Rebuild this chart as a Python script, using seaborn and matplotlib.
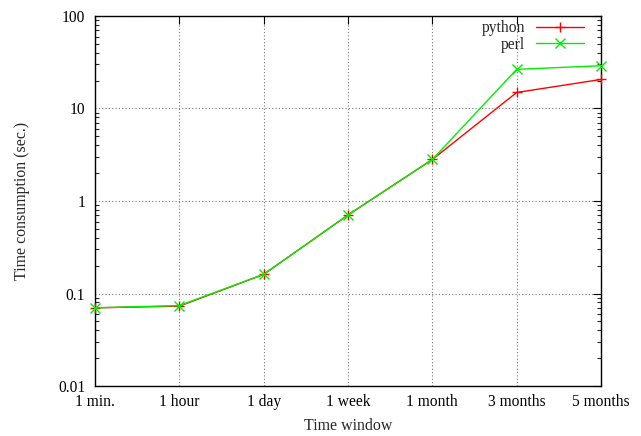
import matplotlib
matplotlib.use("Agg")
import matplotlib.pyplot as plt
import matplotlib.ticker as mticker
import numpy as np
import pandas as pd
import seaborn as sns

windows = ["1 min.", "1 hour", "1 day", "1 week", "1 month", "3 months", "5 months"]
python_times = [0.070, 0.073, 0.161, 0.706, 2.81, 14.9, 20.6]
perl_times = [0.070, 0.074, 0.161, 0.706, 2.81, 26.5, 29.0]
y_ticks = [0.01, 0.1, 1, 10, 100]
y_tick_labels = ["0.01", "0.1", "1", "10", "100"]

sns.set_theme(style="white")
plt.rcParams["font.family"] = ["Liberation Serif", "DejaVu Serif"]

pos = np.arange(len(windows))
df = pd.concat([
    pd.DataFrame({"pos": pos, "time": python_times, "lang": "python"}),
    pd.DataFrame({"pos": pos, "time": perl_times, "lang": "perl"}),
])

W, H = 641, 436
L, R, T, B = 95, 601, 16, 386
fig = plt.figure(figsize=(W / 100, H / 100), dpi=100)
ax = fig.add_axes([L / W, 1 - B / H, (R - L) / W, (B - T) / H])

palette = {"python": "#ff0000", "perl": "#00ee00"}
markers = {"python": "+", "perl": "x"}
for lang in ["python", "perl"]:
    sns.lineplot(data=df[df["lang"] == lang], x="pos", y="time", ax=ax,
                 color=palette[lang], marker=markers[lang], markersize=7,
                 markeredgewidth=1.0, linewidth=1.0, label=lang,
                 markeredgecolor=palette[lang], clip_on=False, zorder=3)

ax.set_yscale("log")
ax.set_ylim(0.01, 100)
ax.set_xlim(0, len(windows) - 1)
ax.set_xticks(pos)
ax.set_xticklabels(windows)
ax.yaxis.set_major_locator(mticker.FixedLocator(y_ticks))
ax.yaxis.set_major_formatter(mticker.FixedFormatter(y_tick_labels))
ax.yaxis.set_minor_locator(mticker.LogLocator(base=10, subs=np.arange(2, 10)))
ax.yaxis.set_minor_formatter(mticker.NullFormatter())

ax.grid(True, which="major", color="#777777", linestyle=(0, (1, 2)), linewidth=0.8)
ax.tick_params(axis="x", which="major", direction="in", length=6, width=0.8,
               top=True, labelsize=11.2, colors="black", pad=6)
ax.tick_params(axis="y", which="major", direction="in", length=6, width=0.8,
               right=True, labelsize=11.2, colors="black", pad=7)
ax.tick_params(axis="y", which="minor", direction="in", length=3, width=0.8,
               left=True, right=True)
for s in ax.spines.values():
    s.set_color("black")
    s.set_linewidth(1.0)

ax.set_xlabel("Time window", fontsize=11.4, va="center")
ax.xaxis.set_label_coords(0.5, -(425.5 - B) / (B - T))
ax.set_ylabel("Time consumption (sec.)", fontsize=11.4, va="center")
ax.yaxis.set_label_coords(-(L - 21.5) / (R - L), 0.5)

ax.legend(loc="upper right", frameon=False, markerfirst=False, fontsize=11.2,
          handlelength=3.1, borderaxespad=0, borderpad=0, labelspacing=0.05,
          handletextpad=0.7, bbox_to_anchor=(584 / W, 1 - 20 / H),
          bbox_transform=fig.transFigure)

fig.savefig("out.png", dpi=100)
